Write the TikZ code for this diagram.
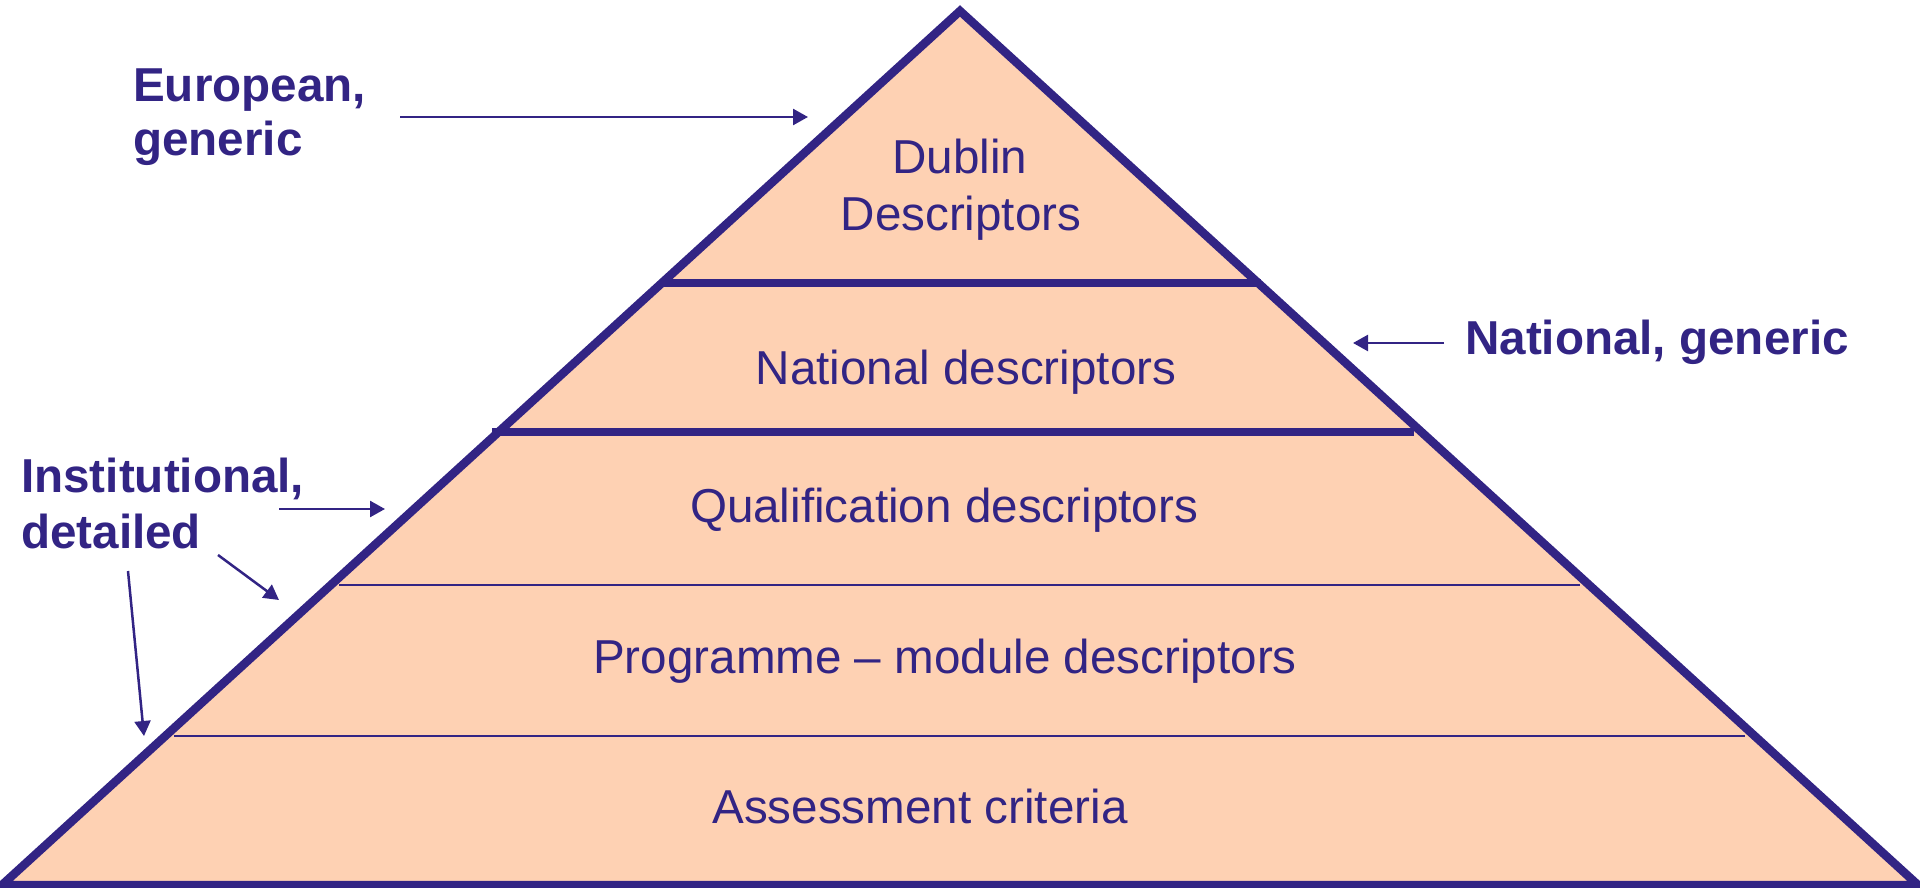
\documentclass[tikz,border=0pt]{standalone}
\usepackage{fontspec}
\setmainfont{Liberation Sans}
\usetikzlibrary{arrows.meta}
\definecolor{ink}{RGB}{50,36,132}
\definecolor{peach}{RGB}{254,209,179}
\tikzset{
  layertext/.style={text=ink, font=\fontsize{47.6}{57}\selectfont, anchor=base, inner sep=0pt, align=center},
  sidelabel/.style={text=ink, font=\fontsize{47.6}{57}\selectfont\bfseries, anchor=base west, inner sep=0pt},
  thickrule/.style={draw=ink, line width=8pt},
  thinrule/.style={draw=ink, line width=2pt},
  pointer/.style={draw=ink, line width=2.5pt, -{Triangle[length=15pt,width=16pt]}},
}
\begin{document}
\begin{tikzpicture}[x=1pt,y=-1pt]
\useasboundingbox (0,0) rectangle (1920,888);
% pyramid
\coordinate (apex) at (960,11);
\coordinate (bl) at (2,885);
\coordinate (br) at (1918,885);
\fill[peach] (apex) -- (bl) -- (br) -- cycle;
\draw[thickrule] (660,283) -- (1261,283);
\draw[thickrule] (492,432) -- (1414,432);
\draw[thinrule] (339,585) -- (1580,585);
\draw[thinrule] (174,736) -- (1745,736);
\draw[draw=ink, line width=8.5pt, line join=miter] (apex) -- (bl) -- (br) -- cycle;
% layer texts
\node[layertext] (dublin) at (960,173) {Dublin};
\node[layertext] (dublin2) at (961,230) {Descriptors};
\node[layertext] (national) at (966,384) {National descriptors};
\node[layertext] (qual) at (944,522) {Qualification descriptors};
\node[layertext] (prog) at (945,673) {Programme -- module descriptors};
\node[layertext] (assess) at (920,823) {Assessment criteria};
% side labels
\node[sidelabel] (euro1) at (133,102) {European,};
\node[sidelabel] (euro2) at (133,156) {generic};
\node[sidelabel] (natgen) at (1465,354) {National, generic};
\node[sidelabel] (inst1) at (21,492) {Institutional,};
\node[sidelabel] (inst2) at (21,548) {detailed};
% arrows
\coordinate (ea) at (400,117); \coordinate (eb) at (808,117);
\coordinate (na) at (1444,343); \coordinate (nb) at (1353,343);
\coordinate (ia) at (279,509); \coordinate (ib) at (385,509);
\coordinate (ja) at (218,555); \coordinate (jb) at (279,600);
\coordinate (ka) at (128,571); \coordinate (kb) at (144,736);
\draw[pointer] (ea) -- (eb);
\draw[pointer] (na) -- (nb);
\draw[pointer] (ia) -- (ib);
\draw[pointer] (ja) -- (jb);
\draw[pointer] (ka) -- (kb);
\end{tikzpicture}
\end{document}
